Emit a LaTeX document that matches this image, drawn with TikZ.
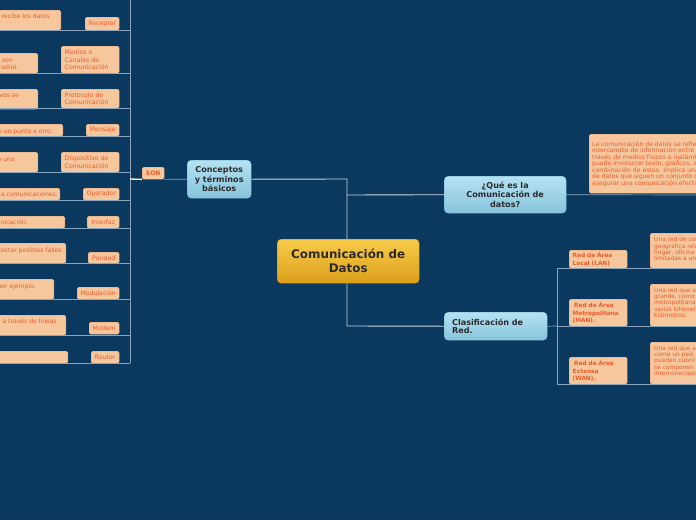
\documentclass[tikz,border=0pt]{standalone}
\usepackage{fontspec}
\setmainfont{DejaVu Sans}
\definecolor{bg}{HTML}{0A385E}
\definecolor{peach}{HTML}{F6C79C}
\definecolor{peachd}{HTML}{D9A47C}
\definecolor{otext}{HTML}{EE5A2B}
\definecolor{linec}{HTML}{8AA5BE}
\definecolor{linew}{HTML}{CCD6DF}
\definecolor{blueT}{HTML}{B6E2F3}
\definecolor{blueB}{HTML}{86C4DC}
\definecolor{blueD}{HTML}{6FAFCB}
\definecolor{goldT}{HTML}{F8CB4A}
\definecolor{goldB}{HTML}{DCA01B}
\definecolor{goldD}{HTML}{C48C12}
\definecolor{dtext}{HTML}{2B2B2B}
\tikzset{
  lbl/.style={fill=peach, draw=peachd, line width=0.4pt, rounded corners=1.5pt,
    text=otext, font=\fontsize{6.2}{7.5}\selectfont, inner xsep=3pt, inner ysep=0pt,
    anchor=north west, align=left},
  rlbl/.style={lbl, font=\bfseries\fontsize{5.8}{7.4}\selectfont},
  descbox/.style={fill=peach, draw=peachd, line width=0.4pt, rounded corners=1.5pt,
    inner sep=0pt},
  dtxt/.style={text=otext, font=\fontsize{6.1}{6.8}\selectfont, inner sep=0pt, anchor=base east},
  rtxt/.style={text=otext, font=\fontsize{5.9}{6.4}\selectfont, inner sep=0pt, anchor=north west, align=left},
  bnode/.style={top color=blueT, bottom color=blueB, draw=blueD, line width=0.4pt,
    rounded corners=4pt, text=dtext, font=\bfseries\fontsize{8.1}{9.4}\selectfont,
    inner sep=0pt, anchor=north west},
  conn/.style={draw=linec, line width=0.7pt},
  mainconn/.style={draw=linew, line width=0.9pt},
}
\begin{document}
\begin{tikzpicture}[x=1pt,y=-1pt]
\useasboundingbox (0,0) rectangle (696,520);
\fill[bg] (0,0) rectangle (696,520);
\clip (0,0) rectangle (696,520);

% ---------- central structure ----------
\node[bnode, minimum width=64pt, minimum height=38pt, align=center] (cpt) at (187,160) {Conceptos\\y términos\\básicos};
\node[bnode, minimum width=122pt, minimum height=37pt, align=center] (que) at (444,176) {¿Qué es la\\Comunicación de\\datos?};
\node[bnode, minimum width=103pt, minimum height=28pt, text width=87pt, align=left, inner xsep=8pt, font=\bfseries\fontsize{8.1}{8.4}\selectfont] (clas) at (444,312) {Clasificación de\\Red.};

\coordinate (j1) at (347,179);
\coordinate (j2) at (347,195);
\coordinate (j3) at (347,326);
\draw[mainconn] (cpt.east) -- (j1) -- (j3) -- (clas.west);
\draw[mainconn] (j2) -- (que.west);

\node[anchor=north west, top color=goldT, bottom color=goldB, draw=goldD, line width=0.4pt,
  rounded corners=4pt, minimum width=142pt, minimum height=44pt, inner sep=0pt,
  text=dtext, font=\bfseries\fontsize{11.9}{14}\selectfont, align=center] (cen) at (277,239) {Comunicación de\\Datos};

% ---------- left branch ----------
\coordinate (stop) at (130,-2);
\coordinate (sbot) at (130,363);
\coordinate (sson) at (130,179);
\draw[conn] (stop) -- (sbot);

\node[lbl, minimum width=22pt, minimum height=12pt, inner xsep=0pt, align=center, font=\bfseries\fontsize{6}{7}\selectfont] (son) at (142,167) {SON};
\draw[conn] (cpt.west) -- (son.south east);
\draw[draw=white, line width=1.3pt] (sson) -- (son.south west);

% description boxes (cut at the left edge)
\node[descbox, anchor=north east, minimum width=71pt, minimum height=20pt] (d1) at (61,10) {};
\node[descbox, anchor=north east, minimum width=48pt, minimum height=20pt] (d2) at (38,53) {};
\node[descbox, anchor=north east, minimum width=48pt, minimum height=20pt] (d3) at (38,89) {};
\node[descbox, anchor=north east, minimum width=73pt, minimum height=12pt] (d4) at (63,124) {};
\node[descbox, anchor=north east, minimum width=48pt, minimum height=20pt] (d5) at (38,152) {};
\node[descbox, anchor=north east, minimum width=70pt, minimum height=12pt] (d6) at (60,188) {};
\node[descbox, anchor=north east, minimum width=75pt, minimum height=12pt] (d7) at (65,216) {};
\node[descbox, anchor=north east, minimum width=76pt, minimum height=20pt] (d8) at (66,243) {};
\node[descbox, anchor=north east, minimum width=64pt, minimum height=20pt] (d9) at (54,279) {};
\node[descbox, anchor=north east, minimum width=76pt, minimum height=20pt] (d10) at (66,315) {};
\node[descbox, anchor=north east, minimum width=78pt, minimum height=12pt] (d11) at (68,351) {};

\node[dtxt] (t1) at (50,18.5) {recibe los datos};
\node[dtxt] (t2a) at (13,62) {son};
\node[dtxt] (t2b) at (19,69) {radio).};
\node[dtxt] (t3) at (19,97) {vos se};
\node[dtxt] (t4) at (53,133) {de un punto a otro.};
\node[dtxt] (t5) at (15,161) {o una};
\node[dtxt] (t6) at (58,196) {a comunicaciones.};
\node[dtxt] (t7) at (28,224) {unicación.};
\node[dtxt] (t8) at (62,252) {detectar posibles fallos};
\node[dtxt] (t9) at (36,288) {por ejemplo,};
\node[dtxt] (t10) at (57,323) {s a través de líneas};

% label boxes
\node[lbl, minimum width=34pt, minimum height=13pt, align=center] (l1) at (85,17) {Receptor};
\node[lbl, minimum width=58pt, minimum height=27pt, text width=51pt, inner xsep=3.5pt] (l2) at (61,46) {Medios o\\Canales de\\Comunicación};
\node[lbl, minimum width=58pt, minimum height=19pt, text width=51pt, inner xsep=3.5pt] (l3) at (61,89) {Protocolo de\\Comunicación};
\node[lbl, minimum width=33pt, minimum height=12pt, align=center] (l4) at (86,124) {Mensaje};
\node[lbl, minimum width=58pt, minimum height=20pt, text width=51pt, inner xsep=3.5pt] (l5) at (61,152) {Dispositivo de\\Comunicación};
\node[lbl, minimum width=36pt, minimum height=12pt, align=center] (l6) at (83,188) {Operador};
\node[lbl, minimum width=32pt, minimum height=12pt, align=center] (l7) at (87,216) {Interfaz};
\node[lbl, minimum width=31pt, minimum height=11pt, align=center] (l8) at (88,252) {Paridad};
\node[lbl, minimum width=42pt, minimum height=12pt, align=center] (l9) at (77,287) {Modulación};
\node[lbl, minimum width=30pt, minimum height=12pt, align=center] (l10) at (89,322) {Modem};
\node[lbl, minimum width=28pt, minimum height=12pt, align=center] (l11) at (91,351) {Router};

\foreach \i/\y in {1/30,2/73,3/108.5,4/136.5,5/172,6/200,7/228,8/263,9/299,10/335,11/363}{
  \coordinate (ua\i) at (-2,\y);
  \coordinate (ub\i) at (130,\y);
  \draw[conn] (ua\i) -- (ub\i);
}

% ---------- right: definition ----------
\coordinate (qend) at (700,195);
\node[descbox, anchor=north west, minimum width=130pt, minimum height=59pt] (qd) at (589,134) {};
\node[rtxt, font=\fontsize{6.1}{6.5}\selectfont] (qt) at (592,141) {La comunicación de datos se refiere al\\intercambio de información entre dos o más\\través de medios físicos o inalámbricos.\\puede involucrar texto, gráficos, sonido\\combinación de estos. Implica una serie\\de datos que siguen un conjunto de reglas\\asegurar una comunicación efectiva.};
\draw[conn] (que.east) -- (qend);

% ---------- right: network types ----------
\coordinate (k1) at (557,268);
\coordinate (k2) at (557,326);
\coordinate (k3) at (557,384);
\coordinate (e1) at (700,268);
\coordinate (e2) at (700,326);
\coordinate (e3) at (700,384);

\node[descbox, anchor=north west, minimum width=70pt, minimum height=35pt] (nd1) at (650,233) {};
\node[descbox, anchor=north west, minimum width=70pt, minimum height=42pt] (nd2) at (650,284) {};
\node[descbox, anchor=north west, minimum width=70pt, minimum height=42pt] (nd3) at (650,342) {};
\node[rtxt] (nt1) at (654,237) {Una red de computadoras\\geográfica relativamente\\hogar, oficina o\\limitadas a una};
\node[rtxt] (nt2) at (654,287.5) {Una red que abarca\\grande, como una\\metropolitana\\varios kilómetros\\kilómetros.};
\node[rtxt] (nt3) at (654,345.5) {Una red que abarca\\como un país\\pueden cubrir\\se componen de\\interconectadas};

\node[rlbl, minimum width=58pt, minimum height=18pt, text width=51pt, inner xsep=3.5pt] (n1) at (569,250) {Red de Área\\Local (LAN)};
\node[rlbl, minimum width=58pt, minimum height=27pt, text width=51pt, inner xsep=3.5pt] (n2) at (569,299) {\hspace*{1.5pt}Red de Área\\Metropolitana\\(MAN).};
\node[rlbl, minimum width=58pt, minimum height=27pt, text width=51pt, inner xsep=3.5pt] (n3) at (569,357) {\hspace*{1.5pt}Red de Área\\Extensa\\(WAN).};

\draw[conn] (clas.east) -- (k2);
\draw[conn] (k1) -- (k3);
\draw[conn] (k1) -- (e1);
\draw[conn] (k2) -- (e2);
\draw[conn] (k3) -- (e3);
\end{tikzpicture}
\end{document}
